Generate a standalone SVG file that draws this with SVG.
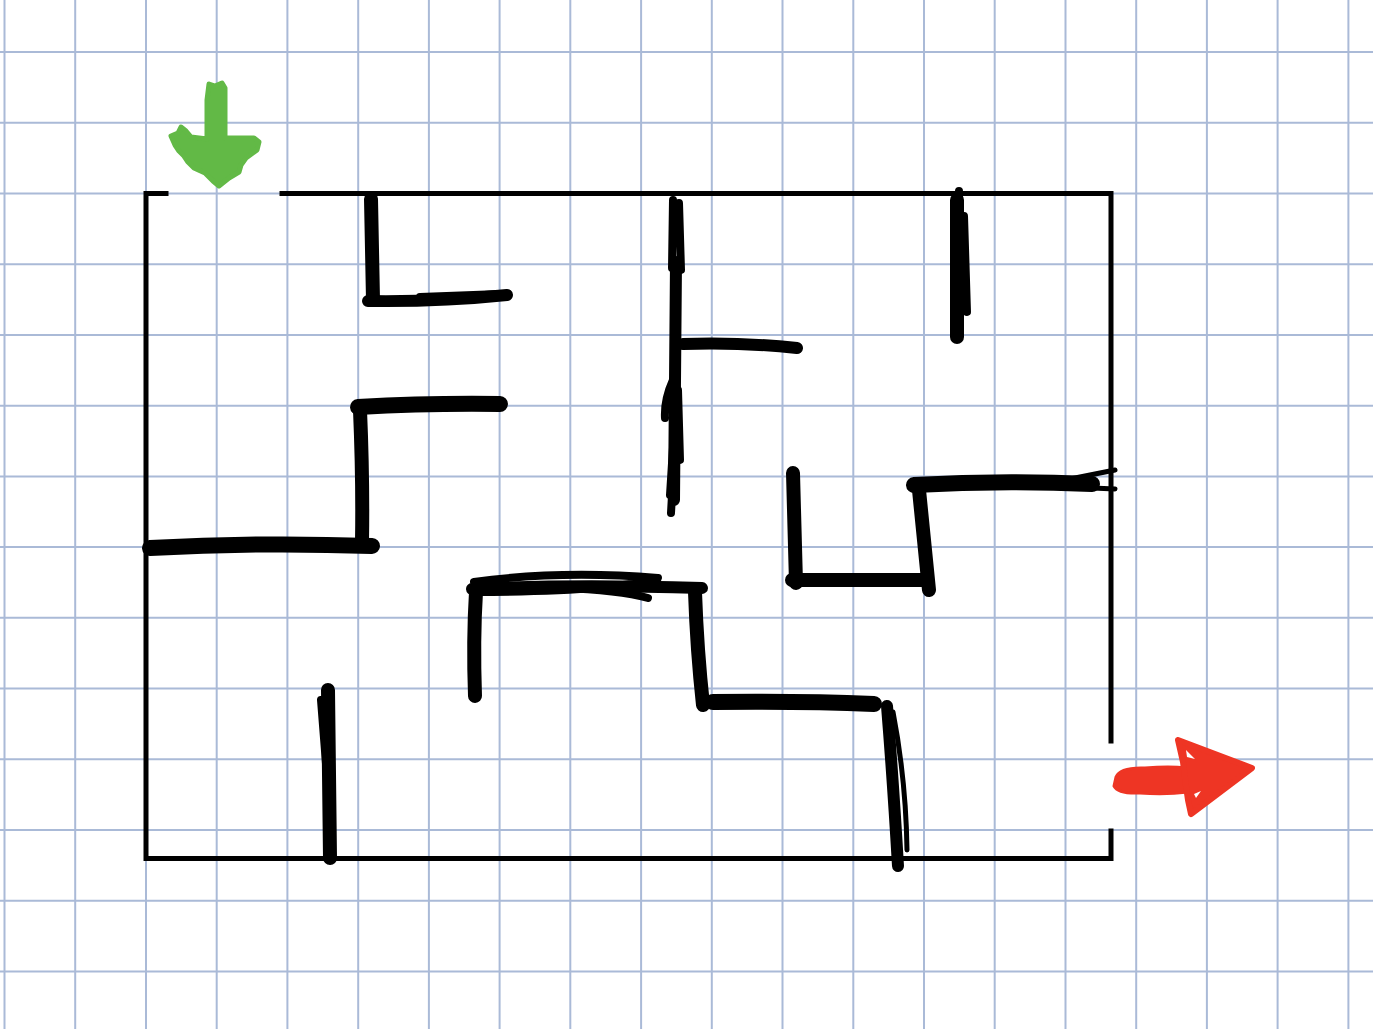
<svg xmlns="http://www.w3.org/2000/svg" width="1373" height="1029" viewBox="0 0 1373 1029">
<style>
.grid line{stroke:#aabad7;stroke-width:2}
.border{fill:none;stroke:#000;stroke-width:5;stroke-linecap:square;stroke-linejoin:miter}
.ink{fill:none;stroke:#000;stroke-linecap:round;stroke-linejoin:round}
.w10{stroke-width:12}.w12{stroke-width:14}.w14{stroke-width:16}.w6{stroke-width:8}.w4{stroke-width:5}
</style>
<rect width="1373" height="1029" fill="#fff"/>
<g id="grid" class="grid">
<line x1="4.5" y1="0" x2="4.5" y2="1029"/><line x1="75.2" y1="0" x2="75.2" y2="1029"/><line x1="146" y1="0" x2="146" y2="1029"/><line x1="216.7" y1="0" x2="216.7" y2="1029"/><line x1="287.4" y1="0" x2="287.4" y2="1029"/><line x1="358.2" y1="0" x2="358.2" y2="1029"/><line x1="428.9" y1="0" x2="428.9" y2="1029"/><line x1="499.6" y1="0" x2="499.6" y2="1029"/><line x1="570.3" y1="0" x2="570.3" y2="1029"/><line x1="641.1" y1="0" x2="641.1" y2="1029"/><line x1="711.8" y1="0" x2="711.8" y2="1029"/><line x1="782.5" y1="0" x2="782.5" y2="1029"/><line x1="853.3" y1="0" x2="853.3" y2="1029"/><line x1="924" y1="0" x2="924" y2="1029"/><line x1="994.7" y1="0" x2="994.7" y2="1029"/><line x1="1065.5" y1="0" x2="1065.5" y2="1029"/><line x1="1136.2" y1="0" x2="1136.2" y2="1029"/><line x1="1206.9" y1="0" x2="1206.9" y2="1029"/><line x1="1277.6" y1="0" x2="1277.6" y2="1029"/><line x1="1348.4" y1="0" x2="1348.4" y2="1029"/>
<line x1="0" y1="52" x2="1373" y2="52"/><line x1="0" y1="122.7" x2="1373" y2="122.7"/><line x1="0" y1="193.5" x2="1373" y2="193.5"/><line x1="0" y1="264.2" x2="1373" y2="264.2"/><line x1="0" y1="334.9" x2="1373" y2="334.9"/><line x1="0" y1="405.7" x2="1373" y2="405.7"/><line x1="0" y1="476.4" x2="1373" y2="476.4"/><line x1="0" y1="547.1" x2="1373" y2="547.1"/><line x1="0" y1="617.8" x2="1373" y2="617.8"/><line x1="0" y1="688.6" x2="1373" y2="688.6"/><line x1="0" y1="759.3" x2="1373" y2="759.3"/><line x1="0" y1="830" x2="1373" y2="830"/><line x1="0" y1="900.8" x2="1373" y2="900.8"/><line x1="0" y1="971.5" x2="1373" y2="971.5"/>
</g>
<g id="border">
<path class="border" d="M166,193.5 H146 V858.5 H1111 V831"/>
<path class="border" d="M282,193.5 H1111 V741"/>
</g>
<g id="walls">
<g id="wall-top-left">
<path class="ink w12" d="M371,199 L373,300"/>
<path class="ink w10" d="M368,301 Q440,302 507,295"/>
<path class="ink w6" d="M420,297 L500,294"/>
</g>
<g id="wall-center">
<path class="ink w6" d="M673,200 L672,268 M679,203 L681,270"/>
<path class="ink w10" d="M676,262 L674,500"/>
<path class="ink w6" d="M673,380 Q664,400 665,418 M678,390 L680,460 M676,400 L670,495 M672,495 L671,513"/>
<path class="ink w10" d="M683,344 Q740,342 797,348"/>
</g>
<g id="wall-top-right">
<path class="ink w12" d="M957,200 L957,337"/>
<path class="ink w6" d="M959,191 L959,215 M964,216 L967,312"/>
</g>
<g id="wall-step-left">
<path class="ink w14" d="M150,548 Q260,542 372,546"/>
<path class="ink w12" d="M360,410 Q363,480 362,541"/>
<path class="ink w14" d="M358,407 Q430,403 500,404"/>
</g>
<g id="wall-bracket">
<path class="ink w12" d="M476,592 Q473,640 475,696"/>
<path class="ink w10" d="M472,589 Q570,584 702,588"/>
<path class="ink w6" d="M474,582 Q560,570 658,578 Q610,592 475,592"/>
<path class="ink w6" d="M560,588 Q620,590 648,598"/>
<path class="ink w12" d="M695,592 Q697,650 703,705"/>
<path class="ink w14" d="M713,702 Q800,701 874,704"/>
<path class="ink w10" d="M887,706 Q893,780 898,866"/>
<path class="ink w4" d="M893,712 Q906,780 907,850"/>
</g>
<g id="wall-right">
<path class="ink w12" d="M793,473 L796,583"/>
<path class="ink w12" d="M792,580 L926,580"/>
<path class="ink w12" d="M919,490 L929,590"/>
<path class="ink w14" d="M914,485 Q1000,480 1092,484"/>
<path class="ink w4" d="M1070,479 L1115,470 M1070,487 L1115,489"/>
</g>
<g id="wall-bottom-left">
<path class="ink w12" d="M328,690 L330,858"/>
<path class="ink w6" d="M321,700 L332,840"/>
</g>
</g>
<g id="start-arrow" fill="#62b946" stroke="#62b946" stroke-linejoin="round">
<path stroke-width="5" d="M209,84 L215,86 L222,83 L225,88 L225,138 L254,138 L259,142 L257,150 L246,158 L241,165 L239,172 L229,178 L219,186 L213,181 L205,173 L194,168 L188,162 L184,156 L179,151 L175,145 L171,136 L178,133 L181,127 L186,131 L191,137 L207,139 L207,100 Z"/>
</g>
<g id="exit-arrow" fill="#ee3524" stroke="#ee3524" stroke-linejoin="round" stroke-linecap="round">
<path stroke-width="3" d="M1116,777 Q1120,767 1145,768 Q1170,766 1186,768 L1188,792 Q1165,795 1140,793 Q1118,794 1114,786 Z"/>
<path stroke-width="6" d="M1178,740 L1252,768 L1191,814 L1188,800 L1186,786 L1183,762 Z"/>
<path fill="#fff" stroke="none" d="M1186,750 L1195,759 L1187,757 Z M1196,798 L1201,791 L1194,794 Z"/>
</g>
</svg>
